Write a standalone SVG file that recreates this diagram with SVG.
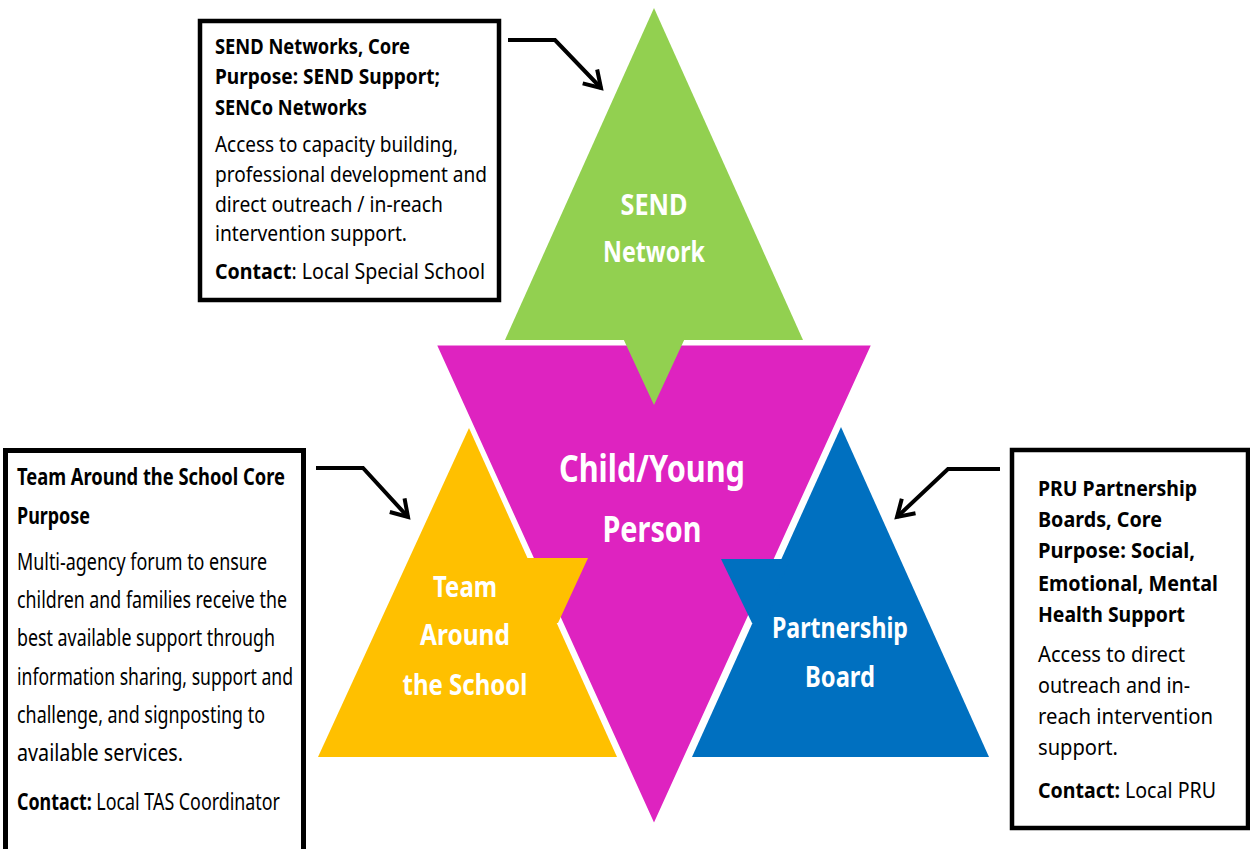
<svg xmlns="http://www.w3.org/2000/svg" width="1250" height="849" viewBox="0 0 1250 849">
<style>
.box{fill:#fff;stroke:#000;stroke-width:4.5}
.t{font-family:"Noto Sans","Open Sans","Liberation Sans",sans-serif;fill:#000}
.b{font-weight:bold}
.s1{font-size:21px}
.s2{font-size:23px}
.s3{font-size:22px}
.lbl{font-family:"Noto Sans","Open Sans","Liberation Sans",sans-serif;font-weight:bold;fill:#fff;text-anchor:middle}
.arrow{fill:none;stroke:#000;stroke-width:4;stroke-linejoin:miter}
</style>
<defs>
<marker id="chev" viewBox="-20 -12 24 24" refX="0" refY="0" markerWidth="24" markerHeight="24" orient="auto" markerUnits="userSpaceOnUse" overflow="visible">
<path d="M-16,-10 L0,0 L-16,10" fill="none" stroke="#000" stroke-width="4"/>
</marker>
</defs>
<rect width="1250" height="849" fill="#fff"/>

<g id="shapes">
<polygon id="green" points="654,8 803,340 505,340" fill="#92D050"/>
<polygon id="yellow" points="469,428 617,757 318,757" fill="#FFC000"/>
<polygon id="blue" points="841,427 989,757 692,757" fill="#0070C0"/>
<polygon id="magenta" points="435,344 873,344 654,826" fill="#DE23C0" stroke="#fff" stroke-width="3"/>
<polygon points="622,336 686,336 654,405" fill="#92D050"/>
<polygon points="520,558 588,558 558,623 545,623" fill="#FFC000"/>
<polygon points="790,559 721,559 752,623 765,623" fill="#0070C0"/>
</g>

<g id="node-send">
<text class="lbl" x="654" y="215" font-size="28" textLength="67" lengthAdjust="spacingAndGlyphs">SEND</text>
<text class="lbl" x="654" y="262" font-size="28" textLength="102" lengthAdjust="spacingAndGlyphs">Network</text>
</g>
<g id="node-child">
<text class="lbl" x="652" y="482" font-size="37" textLength="186" lengthAdjust="spacingAndGlyphs">Child/Young</text>
<text class="lbl" x="652" y="542" font-size="36" textLength="99" lengthAdjust="spacingAndGlyphs">Person</text>
</g>
<g id="node-tas">
<text class="lbl" x="465" y="597" font-size="28" textLength="64" lengthAdjust="spacingAndGlyphs">Team</text>
<text class="lbl" x="465" y="645" font-size="28" textLength="90" lengthAdjust="spacingAndGlyphs">Around</text>
<text class="lbl" x="465" y="695" font-size="28" textLength="125" lengthAdjust="spacingAndGlyphs">the School</text>
</g>
<g id="node-pb">
<text class="lbl" x="840" y="638" font-size="29" textLength="136" lengthAdjust="spacingAndGlyphs">Partnership</text>
<text class="lbl" x="840" y="687" font-size="29" textLength="70" lengthAdjust="spacingAndGlyphs">Board</text>
</g>

<g id="box-send">
<rect class="box" x="200" y="21" width="299" height="279"/>
<text class="t b s1" x="215" y="54" textLength="195" lengthAdjust="spacingAndGlyphs">SEND Networks, Core</text>
<text class="t b s1" x="215" y="84" textLength="225" lengthAdjust="spacingAndGlyphs">Purpose: SEND Support;</text>
<text class="t b s1" x="215" y="115" textLength="152" lengthAdjust="spacingAndGlyphs">SENCo Networks</text>
<text class="t s1" x="215" y="152" textLength="243" lengthAdjust="spacingAndGlyphs">Access to capacity building,</text>
<text class="t s1" x="215" y="182" textLength="272" lengthAdjust="spacingAndGlyphs">professional development and</text>
<text class="t s1" x="215" y="212" textLength="228" lengthAdjust="spacingAndGlyphs">direct outreach / in-reach</text>
<text class="t s1" x="215" y="241" textLength="192" lengthAdjust="spacingAndGlyphs">intervention support.</text>
<text class="t s1" x="215" y="279" textLength="270" lengthAdjust="spacingAndGlyphs"><tspan class="b">Contact</tspan>: Local Special School</text>
</g>

<g id="box-tas">
<rect class="box" x="5.5" y="450.5" width="298" height="410" style="stroke-width:5"/>
<text class="t b s2" x="17" y="485" textLength="268" lengthAdjust="spacingAndGlyphs">Team Around the School Core</text>
<text class="t b s2" x="17" y="524" textLength="73" lengthAdjust="spacingAndGlyphs">Purpose</text>
<text class="t s2" x="17" y="570" textLength="250" lengthAdjust="spacingAndGlyphs">Multi-agency forum to ensure</text>
<text class="t s2" x="17" y="608" textLength="270" lengthAdjust="spacingAndGlyphs">children and families receive the</text>
<text class="t s2" x="17" y="646" textLength="258" lengthAdjust="spacingAndGlyphs">best available support through</text>
<text class="t s2" x="17" y="685" textLength="276" lengthAdjust="spacingAndGlyphs">information sharing, support and</text>
<text class="t s2" x="17" y="723" textLength="248" lengthAdjust="spacingAndGlyphs">challenge, and signposting to</text>
<text class="t s2" x="17" y="761" textLength="166" lengthAdjust="spacingAndGlyphs">available services.</text>
<text class="t s2" x="17" y="810" textLength="263" lengthAdjust="spacingAndGlyphs"><tspan class="b">Contact:</tspan> Local TAS Coordinator</text>
</g>

<g id="box-pru">
<rect class="box" x="1012" y="450" width="236" height="378"/>
<text class="t b s3" x="1038" y="496" textLength="159" lengthAdjust="spacingAndGlyphs">PRU Partnership</text>
<text class="t b s3" x="1038" y="527" textLength="124" lengthAdjust="spacingAndGlyphs">Boards, Core</text>
<text class="t b s3" x="1038" y="558" textLength="157" lengthAdjust="spacingAndGlyphs">Purpose: Social,</text>
<text class="t b s3" x="1038" y="591" textLength="180" lengthAdjust="spacingAndGlyphs">Emotional, Mental</text>
<text class="t b s3" x="1038" y="622" textLength="147" lengthAdjust="spacingAndGlyphs">Health Support</text>
<text class="t s3" x="1038" y="662" textLength="147" lengthAdjust="spacingAndGlyphs">Access to direct</text>
<text class="t s3" x="1038" y="693" textLength="152" lengthAdjust="spacingAndGlyphs">outreach and in-</text>
<text class="t s3" x="1038" y="724" textLength="175" lengthAdjust="spacingAndGlyphs">reach intervention</text>
<text class="t s3" x="1038" y="755" textLength="80" lengthAdjust="spacingAndGlyphs">support.</text>
<text class="t s3" x="1038" y="798" textLength="178" lengthAdjust="spacingAndGlyphs"><tspan class="b">Contact:</tspan> Local PRU</text>
</g>

<g id="connectors">
<path class="arrow" d="M508,40 H555 L601,88" marker-end="url(#chev)"/>
<path class="arrow" d="M316,468 H363 L408,517" marker-end="url(#chev)"/>
<path class="arrow" d="M1000,469 H948 L897,517" marker-end="url(#chev)"/>
</g>
</svg>
